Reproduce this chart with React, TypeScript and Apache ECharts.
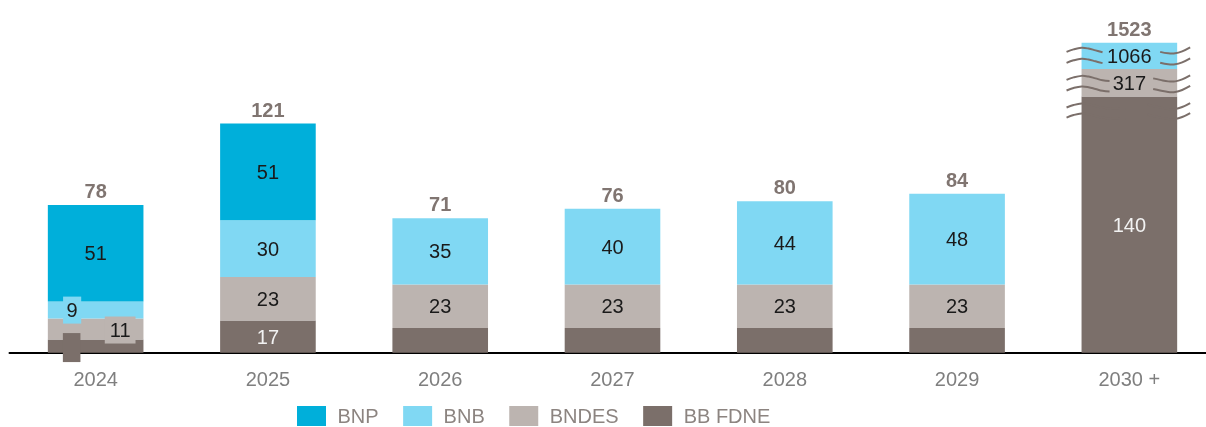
import React, { useEffect, useRef } from 'react';
import * as echarts from 'echarts';

const categories = ['2024', '2025', '2026', '2027', '2028', '2029', '2030 +'];
const bbFdne = [7, 17, 13, 13, 13, 13, 140];
const bndes = [11, 23, 23, 23, 23, 23, 317];
const bnb = [9, 30, 35, 40, 44, 48, 1066];
const bnp = [51, 51, null, null, null, null, null];
const totals = [78, 121, 71, 76, 80, 84, 1523];
const axisBreaks = [
  { start: 125, end: 135, gap: 5.3 },
  { start: 144, end: 452, gap: 5.6 },
  { start: 461, end: 1519, gap: 5.8 },
];
const legendNames = ['BNP', 'BNB', 'BNDES', 'BB FDNE'];

const C_BNP = '#00AFDA';
const C_BNB = '#80D8F3';
const C_BNDES = '#BCB4B0';
const C_BBF = '#7B6F6A';
const FONT = '"Liberation Sans", Arial, sans-serif';

export default function App() {
  const ref = useRef<HTMLDivElement>(null);
  useEffect(() => {
    const chart = echarts.init(ref.current!, null, { renderer: 'svg' });
    const inside = { show: true, position: 'inside', color: '#1A1A1A', fontSize: 20, fontFamily: FONT };

    const bbData = bbFdne.map((v, i) => {
      if (i === 0)
        return {
          value: v,
          label: { show: true, formatter: ' ', backgroundColor: C_BBF, padding: [4.5, 6], offset: [-24, 1.5] },
        };
      if (i >= 2 && i <= 5) return { value: v, label: { show: false } };
      return v;
    });
    const bndesData = bndes.map((v, i) =>
      i === 0
        ? { value: v, label: { backgroundColor: C_BNDES, padding: [3.5, 5], offset: [24.5, 1] } }
        : v
    );
    const bnbData = bnb.map((v, i) =>
      i === 0
        ? { value: v, label: { backgroundColor: C_BNB, padding: [3.5, 3.5], offset: [-23.5, 0] } }
        : v
    );

    const option: any = {
      animation: false,
      grid: { left: 9.5, width: 1206, top: 10.6, bottom: 74.3, containLabel: false, outerBoundsMode: 'none' },
      legend: {
        data: legendNames,
        left: 297,
        top: 406,
        padding: 0,
        itemWidth: 29,
        itemHeight: 20,
        itemGap: 24.5,
        icon: 'rect',
        selectedMode: false,
        textStyle: { fontSize: 20, color: '#8C8480', fontFamily: FONT, padding: [0, 0, 0, 6.5] },
      },
      xAxis: {
        type: 'category',
        data: categories,
        axisLine: { lineStyle: { color: '#000', width: 2 } },
        axisTick: { show: false },
        axisLabel: { color: '#7F7F7F', fontSize: 20, fontFamily: FONT, margin: 16 },
      },
      yAxis: {
        type: 'value',
        min: 0,
        max: 1540,
        show: false,
        splitLine: { show: false },
        breaks: axisBreaks,
        breakArea: { show: false },
      },
      series: [
        {
          name: 'BB FDNE',
          type: 'bar',
          stack: 'a',
          barWidth: '55.5%',
          itemStyle: { color: C_BBF },
          label: { ...inside, color: '#F2F2F2' },
          data: bbData,
        },
        { name: 'BNDES', type: 'bar', stack: 'a', itemStyle: { color: C_BNDES }, label: inside, data: bndesData },
        { name: 'BNB', type: 'bar', stack: 'a', itemStyle: { color: C_BNB }, label: inside, data: bnbData },
        { name: 'BNP', type: 'bar', stack: 'a', itemStyle: { color: C_BNP }, label: inside, data: bnp },
        {
          name: 'Total',
          type: 'bar',
          stack: 'a',
          itemStyle: { color: 'rgba(0,0,0,0)' },
          label: {
            show: true,
            position: 'top',
            distance: 4,
            color: '#807571',
            fontSize: 20,
            fontWeight: 'bold',
            fontFamily: FONT,
            formatter: (p: any) => String(totals[p.dataIndex]),
          },
          data: totals.map(() => 0),
        },
      ],
    };
    chart.setOption(option);

    // break markers (decoration) around the broken 2030+ bar
    const last = categories.length - 1;
    const px = (i: number, v: number) => chart.convertToPixel({ gridIndex: 0 }, [i, v]) as number[];
    const band = px(1, 0)[0] - px(0, 0)[0];
    const cx = px(last, 0)[0];
    const barL = cx - band * 0.2775;
    const barR = cx + band * 0.2775;
    const labelHalf = [0, 19, 25];
    const leftTpl = [[-15, 1.5], [-8, -1], [0, -2.5], [7, -1.8], [14, 0], [21, 1.8], [28, 2.5], [36, 2.8], [44, 3]];
    const rightTpl = [[-30, -1.5], [-24, 0], [-17, 1.5], [-9, 3], [-2, 3], [5, 1], [13, -3]];
    const graphics: any[] = [];
    axisBreaks.forEach((b, bi) => {
      [b.start, b.end].forEach((val) => {
        const y = px(last, val)[1];
        const lEnd = cx - labelHalf[bi] - barL;
        const lp = leftTpl.filter((p) => p[0] <= lEnd).map((p) => [barL + p[0], y + p[1]]);
        const rStart = cx + labelHalf[bi] - barR;
        const rp = rightTpl.filter((p) => p[0] >= rStart).map((p) => [barR + p[0], y + p[1]]);
        [lp, rp].forEach((pts) => {
          if (pts.length >= 2)
            graphics.push({
              type: 'polyline',
              z: 10,
              silent: true,
              shape: { points: pts, smooth: 0.4 },
              style: { stroke: C_BBF, lineWidth: 2, fill: null },
            });
        });
      });
    });
    chart.setOption({ graphic: graphics });

    return () => chart.dispose();
  }, []);
  return <div ref={ref} style={{ position: 'fixed', left: 0, top: 0, width: 1206, height: 427 }} />;
}
